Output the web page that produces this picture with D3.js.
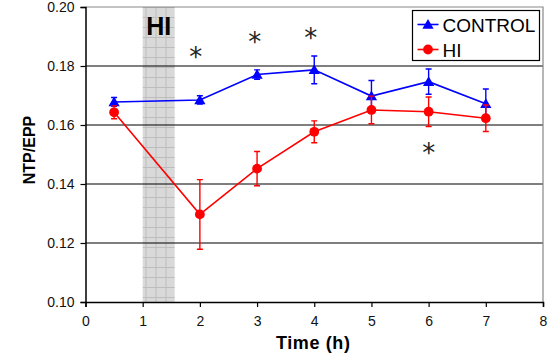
<!DOCTYPE html>
<html>
<head>
<meta charset="utf-8">
<script src="https://cdn.jsdelivr.net/npm/d3@7"></script>
<style>
  body { margin: 0; background: #fff; }
  svg { display: block; font-family: "Liberation Sans", Arial, sans-serif; }
</style>
</head>
<body>
<div id="chart"></div>
<script>
// Data
const times = [0.5, 2, 3, 4, 5, 6, 7];
const controlMean = [0.1678, 0.1685, 0.1771, 0.1787, 0.1698, 0.1747, 0.1672];
const controlErr = [0.0015, 0.0014, 0.0016, 0.0047, 0.0053, 0.0043, 0.0050];
const hiMean = [0.1643, 0.1297, 0.1452, 0.1577, 0.1651, 0.1645, 0.1623];
const hiErr = [0.0022, 0.0118, 0.0058, 0.0037, 0.0047, 0.0050, 0.0045];
const xTicks = [0, 1, 2, 3, 4, 5, 6, 7, 8];
const yTicks = [0.10, 0.12, 0.14, 0.16, 0.18, 0.20];
const hiWindow = [1, 1.56];
// asterisk centres (time, NTP/EPP)
const asterisks = [[1.93, 0.1844], [2.96, 0.1895], [3.94, 0.1908], [6.0, 0.1519]];

const width = 557, height = 353;
const margin = { top: 7, right: 14, bottom: 51, left: 85.5 };
const innerW = width - margin.left - margin.right;
const innerH = height - margin.top - margin.bottom;

const svg = d3.select('#chart').append('svg')
  .attr('width', width)
  .attr('height', height);

const defs = svg.append('defs');
const pat = defs.append('pattern')
  .attr('id', 'hatch')
  .attr('patternUnits', 'userSpaceOnUse')
  .attr('width', 10).attr('height', 10);
pat.append('rect').attr('width', 10).attr('height', 10).attr('fill', '#d9d9d9');
pat.append('path').attr('d', 'M0,0.5H10M0.5,0V10')
  .attr('stroke', '#bdbdbd').attr('stroke-width', 1);

const g = svg.append('g')
  .attr('transform', `translate(${margin.left}, ${margin.top})`);

const x = d3.scaleLinear().domain([0, 8]).range([0, innerW]);
const y = d3.scaleLinear().domain([0.10, 0.20]).range([innerH, 0]);

// HI window shading
g.append('rect')
  .attr('x', x(hiWindow[0]))
  .attr('y', 0)
  .attr('width', x(hiWindow[1]) - x(hiWindow[0]))
  .attr('height', innerH)
  .attr('fill', 'url(#hatch)');

// Gridlines
g.append('g').selectAll('line')
  .data(yTicks.filter(d => d > 0.10 && d < 0.20))
  .enter().append('line')
  .attr('x1', 0).attr('x2', innerW)
  .attr('y1', d => y(d)).attr('y2', d => y(d))
  .attr('stroke', '#000').attr('stroke-width', 1.2);

// Plot frame (top and right grey)
g.append('path')
  .attr('d', `M0,${y(0.20)}H${innerW}V${innerH}`)
  .attr('fill', 'none').attr('stroke', '#888').attr('stroke-width', 1.2);

// Axes
const xAxis = g.append('g')
  .attr('transform', `translate(0, ${innerH})`)
  .call(d3.axisBottom(x).tickValues(xTicks).tickFormat(d3.format('d')).tickSize(5).tickPadding(9));
const yAxis = g.append('g')
  .call(d3.axisLeft(y).tickValues(yTicks).tickFormat(d3.format('.2f')).tickSize(5).tickPadding(6));
[xAxis, yAxis].forEach(a => {
  a.select('.domain').attr('stroke', '#000').attr('stroke-width', 1.5);
  a.selectAll('.tick line').attr('stroke', '#000').attr('stroke-width', 1.2);
  a.selectAll('.tick text')
    .attr('font-size', 14)
    .attr('fill', '#111')
    .attr('font-family', '"Liberation Sans", Arial, sans-serif');
});

// Axis titles
svg.append('text')
  .attr('x', margin.left + x(4) - 1)
  .attr('y', 349)
  .attr('text-anchor', 'middle')
  .attr('font-size', 18).attr('font-weight', 'bold')
  .attr('letter-spacing', 0.6)
  .text('Time (h)');
svg.append('text')
  .attr('transform', 'translate(35, 150) rotate(-90)')
  .attr('text-anchor', 'middle')
  .attr('font-size', 16).attr('font-weight', 'bold')
  .text('NTP/EPP');

// HI label in window
g.append('text')
  .attr('x', x((hiWindow[0] + hiWindow[1]) / 2))
  .attr('y', 28)
  .attr('text-anchor', 'middle')
  .attr('font-size', 25).attr('font-weight', 'bold')
  .text('HI');

const series = [
  { name: 'CONTROL', color: '#0000ff', mean: controlMean, err: controlErr, shape: d3.symbolTriangle, size: 55 },
  { name: 'HI', color: '#ff0000', mean: hiMean, err: hiErr, shape: d3.symbolCircle, size: 75 }
];

const line = d3.line().x(d => x(d[0])).y(d => y(d[1]));

series.forEach(s => {
  const pts = times.map((t, i) => [t, s.mean[i], s.err[i]]);
  const sg = g.append('g');
  sg.append('path')
    .datum(pts)
    .attr('d', line)
    .attr('fill', 'none')
    .attr('stroke', s.color)
    .attr('stroke-width', 1.6);
  // error bars
  const eb = sg.selectAll('.eb').data(pts).enter().append('g');
  eb.append('line')
    .attr('x1', d => x(d[0])).attr('x2', d => x(d[0]))
    .attr('y1', d => y(d[1] - d[2])).attr('y2', d => y(d[1] + d[2]))
    .attr('stroke', s.color).attr('stroke-width', 1.4);
  eb.append('path')
    .attr('d', d => `M${x(d[0]) - 3},${y(d[1] + d[2])}h6M${x(d[0]) - 3},${y(d[1] - d[2])}h6`)
    .attr('stroke', s.color).attr('stroke-width', 1.4);
  sg.selectAll('.mk').data(pts).enter().append('path')
    .attr('transform', d => `translate(${x(d[0])}, ${y(d[1]) + (s.shape === d3.symbolTriangle ? 1 : 0)})`)
    .attr('d', d3.symbol().type(s.shape).size(s.size))
    .attr('fill', s.color);
});

// Significance asterisks (text y shifted so the glyph centre sits on the point)
const astSize = 26;
g.selectAll('.ast').data(asterisks).enter().append('text')
  .attr('x', d => x(d[0]))
  .attr('y', d => y(d[1]) + astSize * 0.5)
  .attr('text-anchor', 'middle')
  .attr('font-size', astSize)
  .attr('font-family', '"DejaVu Sans", sans-serif')
  .attr('fill', '#222')
  .text('*');

// Legend
const lg = svg.append('g').attr('transform', 'translate(412.5, 10.5)');
lg.append('rect')
  .attr('width', 127).attr('height', 50)
  .attr('fill', '#fff').attr('stroke', '#000').attr('stroke-width', 1.2);
series.forEach((s, i) => {
  const row = lg.append('g').attr('transform', `translate(0, ${14 + i * 25})`);
  row.append('line').attr('x1', 5).attr('x2', 26).attr('y1', 0).attr('y2', 0)
    .attr('stroke', s.color).attr('stroke-width', 1.6);
  row.append('path')
    .attr('transform', `translate(15.5, ${s.shape === d3.symbolTriangle ? 1 : 0})`)
    .attr('d', d3.symbol().type(s.shape).size(s.size))
    .attr('fill', s.color);
  row.append('text')
    .attr('x', 30).attr('y', 7)
    .attr('font-size', 19)
    .text(s.name);
});
</script>
</body>
</html>
